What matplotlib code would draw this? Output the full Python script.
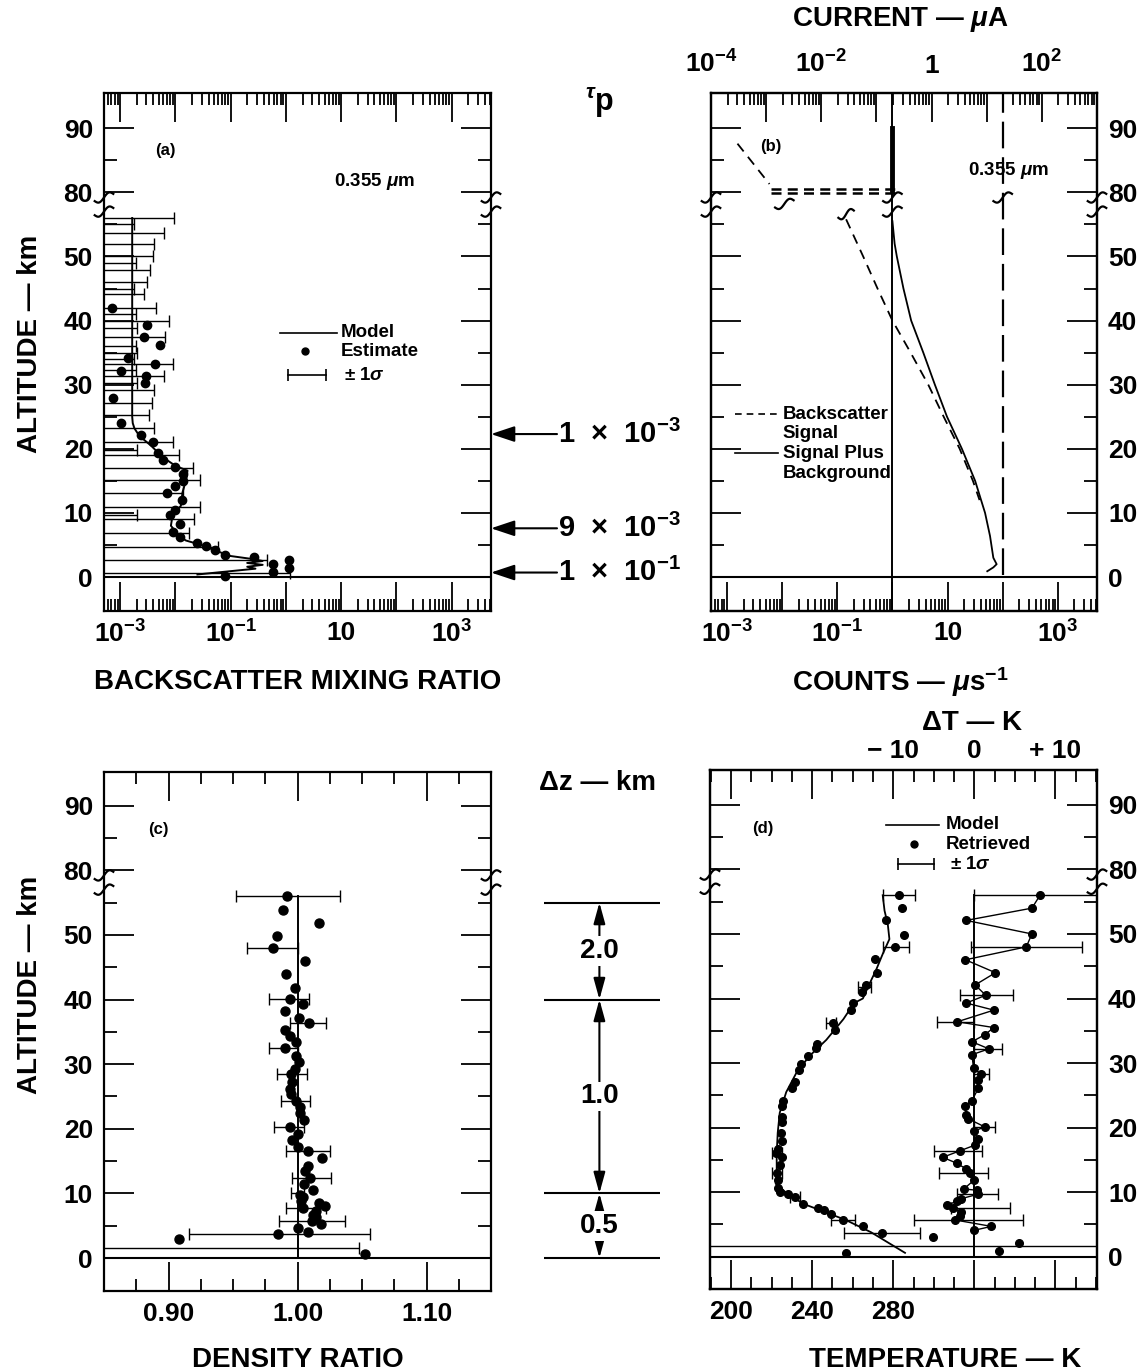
import numpy as np
import matplotlib
matplotlib.use("Agg")
import matplotlib.pyplot as plt
from matplotlib.ticker import FixedLocator, FixedFormatter, NullFormatter, LogLocator, MultipleLocator

plt.rcParams["font.family"] = "Liberation Sans"
plt.rcParams["font.weight"] = "bold"
plt.rcParams["axes.labelweight"] = "bold"
plt.rcParams["mathtext.fontset"] = "custom"
plt.rcParams["mathtext.rm"] = "Liberation Sans:bold"
plt.rcParams["mathtext.it"] = "Liberation Sans:italic"
plt.rcParams["mathtext.bf"] = "Liberation Sans:bold"
plt.rcParams["axes.linewidth"] = 1.6

W, H = 1147, 1372
TICK_FS = 19
LABEL_FS = 20
SMALL_FS = 13.5

# altitude axis, broken between ~57 and ~77 km
Y_MAJOR = [0, 10, 20, 30, 40, 50, 80, 90]
Y_MINOR = [5, 15, 25, 35, 45, 55, 85]
Y_LABELS = ["0", "10", "20", "30", "40", "50", "80", "90"]

# ---------------- (a) backscatter mixing ratio (log10 values)
a_model_alt = [56, 50, 40, 30, 25, 24, 23.2, 22.0, 20.5, 18.7, 17.3, 16.6, 15.3, 13.2, 11.1, 9.6,
               8.0, 6.4, 5.7, 5.1, 4.1, 3.3, 2.8, 2.5, 2.2, 1.9, 1.6, 1.3, 0.4]
a_model_log = [-2.78, -2.78, -2.78, -2.78, -2.78, -2.77, -2.74, -2.65, -2.44, -2.23, -1.99, -1.78,
               -1.80, -1.87, -1.90, -2.05, -2.08, -1.93, -1.81, -1.57, -1.26, -1.02, -0.60, -0.42,
               -0.70, -0.42, -0.70, -0.55, -1.60]
a_est_alt = [42.0, 39.3, 37.4, 36.2, 34.2, 33.2, 32.1, 31.3, 30.2, 28.0, 24.1, 22.2, 21.1, 19.3,
             18.2, 17.1, 16.0, 15.0, 14.2, 13.1, 12.0, 10.4, 9.6, 8.3, 7.0, 6.3, 5.3, 4.8, 4.2,
             3.5, 3.1, 2.65, 2.0, 1.35, 0.8, 0.15]
a_est_log = [-3.14, -2.52, -2.56, -2.27, -2.85, -2.37, -2.99, -2.53, -2.55, -3.12, -2.99, -2.62,
             -2.41, -2.32, -2.22, -2.00, -1.86, -1.86, -2.00, -2.15, -1.88, -2.00, -2.10, -1.92,
             -2.04, -1.92, -1.60, -1.45, -1.28, -1.10, -0.58, 0.06, -0.24, 0.06, -0.24, -1.11]
a_bar_alt = [56.0, 55.0, 53.7, 51.9, 50.0, 49.0, 47.9, 46.0, 45.0, 44.1, 42.0, 41.0, 40.0, 38.8,
             37.4, 36.0, 35.0, 34.0, 33.2, 32.3, 31.3, 30.2, 29.2, 27.1, 25.3, 23.2, 21.1, 19.8,
             19.0, 17.0, 15.1, 13.1, 11.0, 9.7, 9.0, 6.9, 4.7, 2.65, 0.6]
a_bar_cap = [-2.03, -2.75, -2.21, -2.38, -2.41, -2.72, -2.46, -2.52, -2.75, -2.56, -2.35, -2.72,
             -2.12, -2.70, -2.18, -2.72, -2.69, -2.75, -2.05, -2.72, -2.20, -2.70, -2.38, -2.43,
             -2.47, -2.38, -2.04, -2.70, -1.93, -1.68, -1.55, -1.87, -1.55, -2.70, -1.66, -1.75,
             -1.23, -0.35, 0.08]
A_XLABELS = ["$10^{-3}$", "", "$10^{-1}$", "", "10", "", "$10^{3}$"]

# ---------------- (b) counts (log10 counts per microsecond)
b_sig_hi_alt = [87.6, 81.3]
b_sig_hi_log = [-2.81, -2.23]
b_sig_lo_alt = [55.8, 50, 45, 40, 35, 30, 25, 20, 15, 12]
b_sig_lo_log = [-0.84, -0.53, -0.27, 0.00, 0.33, 0.65, 0.93, 1.22, 1.46, 1.58]
b_tot_alt = [55.5, 52, 50, 45, 40, 35, 30, 25, 20, 15, 10, 6.4, 3.0, 2.0, 1.5, 0.9]
b_tot_log = [0.00, 0.04, 0.08, 0.20, 0.34, 0.56, 0.77, 0.99, 1.26, 1.50, 1.68, 1.77, 1.83, 1.89, 1.83, 1.72]
b_background = 1.0
b_saturation = 100.0
B_XLABELS = ["$10^{-3}$", "", "$10^{-1}$", "", "10", "", "$10^{3}$"]
B_TOPLABELS = ["$10^{-4}$", "", "$10^{-2}$", "", "1", "", "$10^{2}$", ""]

# ---------------- (c) density ratio
c_bar_alt = [56.0, 47.9, 40.1, 36.4, 32.5, 28.5, 24.3, 20.3, 16.5, 12.4, 10.1, 7.7, 5.8, 3.7, 1.6]
c_bar_lo = [0.952, 0.961, 0.978, 0.994, 0.978, 0.984, 0.987, 0.982, 0.991, 0.996, 0.995, 0.991, 0.986, 0.916, 0.700]
c_bar_hi = [1.033, 1.000, 1.009, 1.022, 1.000, 1.007, 1.010, 1.005, 1.025, 1.026, 1.005, 1.022, 1.037, 1.056, 1.048]
c_dot_alt = [56.0, 53.9, 51.9, 49.8, 47.9, 46.0, 44.0, 41.8, 40.1, 39.3, 38.2, 37.2, 36.4, 35.3,
             34.3, 33.4, 32.5, 31.2, 30.3, 29.2, 28.5, 27.3, 26.2, 25.4, 24.3, 23.3, 22.4, 21.3,
             20.3, 19.2, 18.3, 17.2, 16.5, 15.5, 14.3, 13.4, 12.4, 11.4, 10.5, 9.8, 9.5, 8.8,
             8.5, 8.1, 7.7, 7.3, 6.6, 6.3, 5.7, 5.2, 4.6, 4.1, 3.7, 3.0, 0.6]
c_dot_val = [0.992, 0.989, 1.017, 0.984, 0.981, 1.006, 0.991, 0.998, 0.994, 1.004, 0.990, 1.001,
             1.009, 0.990, 0.994, 0.999, 0.990, 0.999, 1.001, 0.998, 0.995, 0.996, 0.994, 0.995,
             0.999, 1.002, 1.002, 1.005, 0.994, 1.000, 0.996, 1.000, 1.008, 1.019, 1.008, 1.006,
             1.010, 1.005, 1.012, 1.002, 1.004, 1.003, 1.017, 1.021, 1.004, 1.014, 1.012, 1.014,
             1.011, 1.018, 1.000, 1.008, 0.985, 0.908, 1.052]

# ---------------- (d) temperature
d_model_alt = [56.0, 53.6, 51.5, 49.2, 46.9, 44.4, 42.3, 40.0, 39.3, 36.8, 33.6, 31.1, 28.6, 25.5,
               22.3, 19.2, 16.0, 12.9, 11.3, 9.9, 8.2, 7.2, 5.7, 3.8, 0.6]
d_model_T = [274.8, 275.7, 277.3, 278.1, 274.8, 271.5, 268.3, 265.0, 260.7, 255.4, 247.0, 238.7,
             232.4, 227.2, 224.0, 223.0, 222.5, 222.5, 222.0, 227.2, 235.6, 244.0, 256.5, 269.0, 285.8]
d_dot_alt = [56.0, 54.0, 52.1, 49.8, 48.0, 46.1, 44.0, 42.1, 41.0, 39.3, 38.2, 36.2, 35.1, 33.0,
             32.4, 31.1, 29.9, 28.9, 27.0, 26.1, 24.2, 23.3, 21.7, 20.8, 19.2, 17.9, 16.7, 16.0,
             15.4, 14.2, 12.9, 11.9, 10.7, 10.1, 9.7, 9.2, 8.2, 7.5, 7.2, 6.6, 5.7, 4.7, 3.6,
             3.05, 0.63]
d_dot_T = [282.6, 284.2, 276.2, 285.2, 281.1, 271.2, 272.0, 266.6, 264.5, 260.3, 259.2, 250.2,
           251.3, 242.5, 241.8, 237.7, 234.5, 233.5, 231.4, 229.9, 225.7, 225.1, 225.1, 225.1,
           224.7, 225.1, 223.0, 222.0, 225.1, 224.0, 222.6, 223.0, 223.0, 224.0, 228.2, 231.4,
           235.6, 242.9, 246.0, 249.2, 255.4, 265.0, 274.5, 299.7, 256.7]
d_tbar_alt = [56.0, 48.0, 41.8, 36.2, 16.0, 12.9, 9.2, 5.7, 3.6]
d_tbar_lo = [274.8, 274.8, 262.8, 247.0, 220.0, 220.0, 229.0, 249.5, 255.6]
d_tbar_hi = [290.5, 288.0, 269.0, 252.0, 225.0, 225.0, 234.0, 261.3, 293.4]
d_dt_alt = [56.0, 54.0, 52.1, 50.0, 48.0, 46.0, 44.0, 42.1, 40.5, 39.3, 38.2, 36.4, 35.5, 34.4,
            33.3, 32.2, 31.3, 29.2, 28.3, 27.4, 26.1, 24.2, 23.3, 22.0, 21.4, 20.1, 19.5, 18.2,
            17.3, 16.4, 15.4, 14.5, 13.6, 12.9, 11.9, 10.5, 10.3, 9.7, 9.0, 8.6, 8.0, 7.5, 6.9,
            6.3, 5.7, 4.7, 4.1]
d_dt_val = [8.1, 7.1, -1.0, 7.1, 6.4, -1.1, 2.6, 0.1, 1.4, -1.0, 2.4, -2.1, 2.4, 1.3, -0.3, 1.8,
            -0.3, -0.1, 0.8, 0.4, 0.5, -0.3, -1.2, -1.0, -0.8, 1.3, 0.0, 0.4, 0.1, -1.8, -3.9,
            -2.2, -1.0, -0.5, 0.0, -1.3, 0.3, 0.5, -1.6, -2.1, -3.4, -2.6, -1.6, -1.8, -2.4, 2.1, 0.0]
d_dt_free_alt = [2.1, 0.9]
d_dt_free_val = [5.5, 3.0]
d_dtbar_alt = [56.0, 48.0, 40.5, 36.4, 32.2, 28.3, 20.1, 16.4, 12.9, 9.7, 7.5, 5.7]
d_dtbar_lo = [0.0, -0.4, -1.8, -4.6, 0.0, 0.0, 0.0, -5.0, -4.3, -2.1, -2.9, -7.4]
d_dtbar_hi = [20.0, 13.3, 4.8, 0.0, 3.4, 1.8, 2.6, 1.0, 1.7, 2.9, 4.4, 6.0]

# middle column annotations
tau_alt = [22.3, 7.6, 0.7]
tau_labels = ["1  ×  10$^{-3}$", "9  ×  10$^{-3}$", "1  ×  10$^{-1}$"]
dz_edges = [0, 10, 40, 55]
dz_labels = ["0.5", "1.0", "2.0"]


def fwd(a):
    a = np.asarray(a, float)
    return np.where(a <= 57.5, a, np.where(a >= 77.5, a - 20.0, 57.5))


def inv(d):
    d = np.asarray(d, float)
    return np.where(d <= 57.5, d, d + 20.0)


def pos(x0, x1, y0, y1):
    return [x0 / W, 1 - y1 / H, (x1 - x0) / W, (y1 - y0) / H]


def alt_axis(ax, ylim, right=False):
    ax.set_yscale("function", functions=(fwd, inv))
    ax.set_ylim(*ylim)
    ax.yaxis.set_major_locator(FixedLocator(Y_MAJOR))
    ax.yaxis.set_minor_locator(FixedLocator(Y_MINOR))
    ax.yaxis.set_major_formatter(FixedFormatter(Y_LABELS))
    ax.yaxis.set_minor_formatter(NullFormatter())
    ax.tick_params(axis="y", which="both", direction="in", left=True, right=True,
                   labelleft=not right, labelright=right, width=1.3, labelsize=TICK_FS, pad=8)
    ax.tick_params(axis="y", which="major", length=21.5)
    ax.tick_params(axis="y", which="minor", length=9.4)


def x_ticks(ax, pad=7, **kw):
    ax.tick_params(axis="x", which="both", direction="in", width=1.3, labelsize=TICK_FS, pad=pad, **kw)
    ax.tick_params(axis="x", which="major", length=21)
    ax.tick_params(axis="x", which="minor", length=8.5)


def log_x(ax, decades, labels):
    ax.xaxis.set_major_locator(FixedLocator(decades))
    ax.xaxis.set_major_formatter(FixedFormatter(labels))
    ax.xaxis.set_minor_locator(LogLocator(base=10, subs=np.arange(2, 10), numticks=100))
    ax.xaxis.set_minor_formatter(NullFormatter())


def squiggle(ax, xf, d, w=0.048, h=0.006):
    lo, hi = fwd(ax.get_ylim())
    yf = (d - lo) / (hi - lo)
    t = np.linspace(-1, 1, 40)
    ax.plot(xf + t * w / 2, yf + h * np.sin(np.pi * t) + 0.007 * t, transform=ax.transAxes,
            color="k", lw=1.6, clip_on=False, zorder=8)


def breaks(ax, xs, double=True):
    for xf in xs:
        squiggle(ax, xf, 59.2)
        if double:
            squiggle(ax, xf, 57.0)


def ylabel(ax, yc):
    ax.set_ylabel("ALTITUDE — km", fontsize=LABEL_FS)
    ax.yaxis.label.set_va("center")
    ax.yaxis.label.set_ha("center")
    ax.yaxis.set_label_coords(-0.191, yc)


def xlabel(ax, text, xc, yc):
    ax.set_xlabel(text, fontsize=LABEL_FS)
    ax.xaxis.label.set_va("center")
    ax.xaxis.set_label_coords(xc, yc)


fig = plt.figure(figsize=(W / 100, H / 100), dpi=100)
blk = dict(color="k")

# ===================== (a)
axA = fig.add_axes(pos(104, 491, 93, 611))
axA.set_xscale("log")
axA.set_xlim(10 ** -3.29, 10 ** 3.71)
alt_axis(axA, (-5.3, 95.5))
log_x(axA, [10.0 ** k for k in range(-3, 4)], A_XLABELS)
x_ticks(axA, top=True, labeltop=False)
axA.axhline(0, lw=1.5, **blk)
cap = 10.0 ** np.array(a_bar_cap)
axA.errorbar(cap, a_bar_alt, xerr=[cap - 1e-5, np.zeros_like(cap)], fmt="none",
             ecolor="k", elinewidth=1.0, capsize=4, capthick=1.0)
axA.plot(10.0 ** np.array(a_model_log), a_model_alt, lw=1.4, **blk)
axA.plot(10.0 ** np.array(a_est_log), a_est_alt, "o", ms=6, mfc="k", mec="k", zorder=5)
yt = axA.get_yaxis_transform()
axA.plot([0.456, 0.603], [38.1, 38.1], transform=yt, lw=1.2, **blk)
axA.plot([0.52], [35.2], "o", ms=5, transform=yt, **blk)
axA.plot([0.475, 0.573], [31.5, 31.5], transform=yt, lw=1.2, **blk)
axA.plot([0.475, 0.573], [31.5, 31.5], "|", ms=8, mew=1.2, transform=yt, **blk)
axA.text(0.611, 38.1, "Model", transform=yt, fontsize=SMALL_FS, va="center")
axA.text(0.611, 35.2, "Estimate", transform=yt, fontsize=SMALL_FS, va="center")
axA.text(0.62, 31.5, "± 1$\\sigma$", transform=yt, fontsize=SMALL_FS, va="center")
axA.text(0.158, 86.5, "(a)", transform=yt, fontsize=12, ha="center", va="center")
axA.text(0.70, 81.7, "0.355 $\\mu$m", transform=yt, fontsize=SMALL_FS, ha="center", va="center")
breaks(axA, [0.0, 1.0])
ylabel(axA, 0.515)
xlabel(axA, "BACKSCATTER MIXING RATIO", 0.5, -0.137)

# ===================== (b)
axB = fig.add_axes(pos(711, 1097, 93, 611))
axB.set_xscale("log")
axB.set_xlim(10 ** -3.29, 10 ** 3.71)
alt_axis(axB, (-5.3, 95.5), right=True)
axBt = axB.twiny()
axBt.set_xscale("log")
axBt.set_xlim(1e-4, 1e3)
log_x(axB, [10.0 ** k for k in range(-3, 4)], B_XLABELS)
log_x(axBt, [10.0 ** k for k in range(-4, 4)], B_TOPLABELS)
x_ticks(axB, top=False, bottom=True)
x_ticks(axBt, pad=11, top=True, bottom=False, labeltop=True, labelbottom=False)
axB.axhline(0, lw=1.5, **blk)
axB.axvline(b_background, lw=1.4, **blk)
axB.plot([b_background, b_background], [80.3, 90], lw=3.5, **blk)
axB.plot([b_saturation, b_saturation], [0.3, 95.5], lw=1.6, dashes=(12, 4), **blk)
axB.plot(10.0 ** np.array(b_sig_hi_log), b_sig_hi_alt, lw=1.3, dashes=(5.5, 3.8), **blk)
axB.hlines([80.45, 79.9], 10 ** -2.2, 10 ** 0.05, lw=1.8, linestyles=(0, (4, 2.5)), **blk)
axB.plot(10.0 ** np.array(b_sig_lo_log), b_sig_lo_alt, lw=1.3, dashes=(5.5, 3.8), **blk)
axB.plot(10.0 ** np.array(b_tot_log), b_tot_alt, lw=1.3, **blk)
yt = axB.get_yaxis_transform()
axB.plot([0.061, 0.173], [25.4, 25.4], transform=yt, lw=1.2, dashes=(4, 3), **blk)
axB.plot([0.061, 0.173], [19.3, 19.3], transform=yt, lw=1.2, **blk)
axB.text(0.186, 25.4, "Backscatter", transform=yt, fontsize=SMALL_FS, va="center")
axB.text(0.186, 22.4, "Signal", transform=yt, fontsize=SMALL_FS, va="center")
axB.text(0.186, 19.3, "Signal Plus", transform=yt, fontsize=SMALL_FS, va="center")
axB.text(0.186, 16.2, "Background", transform=yt, fontsize=SMALL_FS, va="center")
axB.text(0.156, 87.1, "(b)", transform=yt, fontsize=12, ha="center", va="center")
axB.text(0.77, 83.4, "0.355 $\\mu$m", transform=yt, fontsize=SMALL_FS, ha="center", va="center")
breaks(axB, [0.0, 1.0, 3.29 / 7])
breaks(axB, [5.29 / 7], double=False)
squiggle(axB, (3.29 - 1.96) / 7, 58.2)
squiggle(axB, (3.29 - 0.84) / 7, 56.6, w=0.04)
xlabel(axB, "COUNTS — $\\mu$s$^{-1}$", 0.49, -0.137)
axBt.set_xlabel("CURRENT — $\\mu$A", fontsize=LABEL_FS)
axBt.xaxis.label.set_va("center")
axBt.xaxis.set_label_coords(0.49, 1.141)

# ===================== (c)
axC = fig.add_axes(pos(104, 491, 772, 1291))
axC.set_xlim(0.85, 1.15)
alt_axis(axC, (-5.1, 95.2))
axC.xaxis.set_major_locator(FixedLocator([0.90, 1.00, 1.10]))
axC.xaxis.set_major_formatter(FixedFormatter(["0.90", "1.00", "1.10"]))
axC.xaxis.set_minor_locator(MultipleLocator(0.025))
x_ticks(axC, pad=8, top=True, labeltop=False)
axC.axhline(0, lw=1.5, **blk)
axC.plot([1.0, 1.0], [0, 56], lw=1.4, **blk)
lo = np.array(c_bar_lo)
hi = np.array(c_bar_hi)
axC.errorbar((lo + hi) / 2, c_bar_alt, xerr=(hi - lo) / 2, fmt="none", ecolor="k",
             elinewidth=1.0, capsize=4, capthick=1.0)
axC.plot(c_dot_val, c_dot_alt, "o", ms=6.5, mfc="k", mec="k", zorder=5)
yt = axC.get_yaxis_transform()
axC.text(0.14, 86.3, "(c)", transform=yt, fontsize=12, ha="center", va="center")
breaks(axC, [0.0, 1.0])
ylabel(axC, 0.59)
xlabel(axC, "DENSITY RATIO", 0.5, -0.133)

# ===================== (d)
axD = fig.add_axes(pos(710, 1097, 770, 1289))
axD.set_xlim(189.6, 380.5)
alt_axis(axD, (-5.0, 95.4), right=True)
axDt = axD.twiny()
axDt.set_xlim((189.6 - 320) / 4, (380.5 - 320) / 4)
axD.xaxis.set_major_locator(FixedLocator([200, 240, 280, 320, 360]))
axD.xaxis.set_major_formatter(FixedFormatter(["200", "240", "280", "", ""]))
axD.xaxis.set_minor_locator(MultipleLocator(10))
axDt.xaxis.set_major_locator(FixedLocator([-30, -20, -10, 0, 10]))
axDt.xaxis.set_major_formatter(FixedFormatter(["", "", "− 10", "0", "+ 10"]))
axDt.xaxis.set_minor_locator(MultipleLocator(2.5))
x_ticks(axD, pad=8, top=False, bottom=True)
x_ticks(axDt, pad=5, top=True, bottom=False, labeltop=True, labelbottom=False)
axD.axhline(0, lw=1.5, **blk)
axD.axhline(1.6, lw=1.0, **blk)
lo = np.array(d_tbar_lo)
hi = np.array(d_tbar_hi)
axD.errorbar((lo + hi) / 2, d_tbar_alt, xerr=(hi - lo) / 2, fmt="none", ecolor="k",
             elinewidth=1.0, capsize=4, capthick=1.0)
axD.plot(d_model_T, d_model_alt, lw=1.3, **blk)
axD.plot(d_dot_T, d_dot_alt, "o", ms=5.5, mfc="k", mec="k", zorder=5)
lo = np.array(d_dtbar_lo)
hi = np.array(d_dtbar_hi)
axDt.errorbar((lo + hi) / 2, d_dtbar_alt, xerr=(hi - lo) / 2, fmt="none", ecolor="k",
              elinewidth=1.0, capsize=4, capthick=1.0)
axDt.plot([0, 0], [0, 56], lw=1.4, **blk)
axDt.plot(d_dt_val, d_dt_alt, "-o", lw=1.0, ms=5.5, mfc="k", mec="k", zorder=5, **blk)
axDt.plot(d_dt_free_val, d_dt_free_alt, "o", ms=5.5, mfc="k", mec="k", zorder=5)
yt = axD.get_yaxis_transform()
axD.plot([0.455, 0.593], [86.9, 86.9], transform=yt, lw=1.2, **blk)
axD.plot([0.526], [83.9], "o", ms=5, transform=yt, **blk)
axD.plot([0.487, 0.578], [80.8, 80.8], transform=yt, lw=1.2, **blk)
axD.plot([0.487, 0.578], [80.8, 80.8], "|", ms=8, mew=1.2, transform=yt, **blk)
axD.text(0.61, 86.9, "Model", transform=yt, fontsize=SMALL_FS, va="center")
axD.text(0.61, 83.9, "Retrieved", transform=yt, fontsize=SMALL_FS, va="center")
axD.text(0.619, 80.8, "± 1$\\sigma$", transform=yt, fontsize=SMALL_FS, va="center")
axD.text(0.136, 86.4, "(d)", transform=yt, fontsize=12, ha="center", va="center")
breaks(axD, [0.0, 1.0])
xlabel(axD, "TEMPERATURE — K", 0.607, -0.137)
axDt.set_xlabel("ΔT — K", fontsize=LABEL_FS)
axDt.xaxis.label.set_va("center")
axDt.xaxis.set_label_coords(0.677, 1.0906)

# ===================== middle column, top: optical depth arrows
axM = fig.add_axes(pos(491, 711, 93, 611), sharey=axA)
axM.set_xlim(0, 1)
axM.axis("off")
for alt, lab in zip(tau_alt, tau_labels):
    axM.annotate("", xy=(0.0, alt), xytext=(0.30, alt),
                 arrowprops=dict(arrowstyle="-|>,head_length=0.9,head_width=0.3", lw=1.5,
                                 color="k", shrinkA=0, shrinkB=0, mutation_scale=16))
    axM.text(0.305, alt, lab, fontsize=21, ha="left", va="center")
axM.text(0.495, 94.0, "$^{\\tau}$p", fontsize=22, ha="center", va="center")

# ===================== middle column, bottom: resolution bracket
axN = fig.add_axes(pos(491, 710, 772, 1291), sharey=axC)
axN.set_xlim(0, 1)
axN.axis("off")
axN.hlines(dz_edges, 0.24, 0.77, lw=1.5, **blk)
for z0, z1, lab in zip(dz_edges[:-1], dz_edges[1:], dz_labels):
    axN.annotate("", xy=(0.495, z0), xytext=(0.495, z1),
                 arrowprops=dict(arrowstyle="<|-|>,head_length=0.8,head_width=0.22", lw=1.5,
                                 color="k", shrinkA=0, shrinkB=0, mutation_scale=16))
    axN.text(0.495, (z0 + z1) / 2, lab, fontsize=LABEL_FS, ha="center", va="center",
             bbox=dict(fc="white", ec="none", pad=1.5))
axN.text(0.485, 93.5, "Δz — km", fontsize=LABEL_FS, ha="center", va="center")

fig.savefig("out.png", dpi=100)
